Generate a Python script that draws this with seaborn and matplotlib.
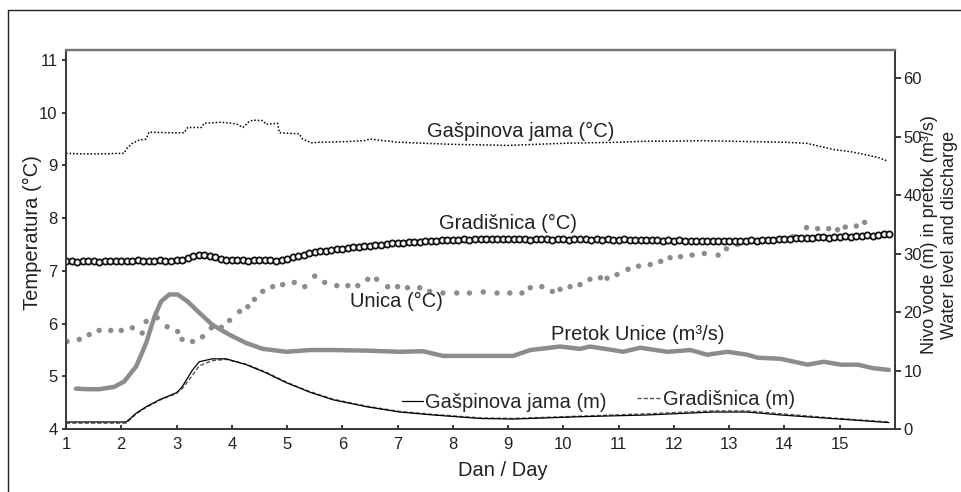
import numpy as np
import pandas as pd
import seaborn as sns
import matplotlib.pyplot as plt
from matplotlib.lines import Line2D

# --- temperatures (left axis) ---
gasp_t_day = [1.0, 1.3, 1.6, 2.05, 2.1, 2.2, 2.32, 2.45, 2.5, 2.9, 3.14, 3.2, 3.45, 3.5, 3.8,
              4.0, 4.1, 4.2, 4.3, 4.38, 4.56, 4.62, 4.83, 4.86, 5.22, 5.28, 5.44, 5.6, 6.0,
              6.4, 6.5, 7.0, 7.5, 8.0, 8.5, 9.0, 9.5, 10.0, 10.5, 11.0, 11.5, 12.0, 12.5,
              13.0, 13.5, 14.0, 14.4, 14.9, 15.2, 15.44, 15.7, 15.87]
gasp_t = [9.23, 9.22, 9.22, 9.23, 9.32, 9.42, 9.48, 9.50, 9.63, 9.62, 9.62, 9.72, 9.72, 9.80, 9.82,
          9.80, 9.78, 9.72, 9.82, 9.86, 9.85, 9.78, 9.80, 9.62, 9.60, 9.50, 9.43, 9.44, 9.45,
          9.47, 9.50, 9.44, 9.42, 9.40, 9.39, 9.38, 9.40, 9.42, 9.43, 9.44, 9.46, 9.46, 9.47,
          9.46, 9.45, 9.44, 9.42, 9.30, 9.26, 9.21, 9.15, 9.08]

# Gradisnica temperature, every 0.1 day from day 1.0 to 15.9
grad_t = [7.18, 7.19, 7.17, 7.18, 7.19, 7.18, 7.17, 7.19, 7.18, 7.19,
          7.18, 7.19, 7.18, 7.20, 7.19, 7.18, 7.19, 7.20, 7.19, 7.18,
          7.20, 7.21, 7.24, 7.28, 7.30, 7.31, 7.29, 7.26, 7.22, 7.21,
          7.20, 7.21, 7.20, 7.19, 7.21, 7.20, 7.21, 7.20, 7.19, 7.21,
          7.22, 7.26, 7.29, 7.31, 7.33, 7.35, 7.37, 7.38, 7.40, 7.41,
          7.42, 7.43, 7.45, 7.46, 7.47, 7.48, 7.49, 7.50, 7.51, 7.52,
          7.53, 7.53, 7.54, 7.55, 7.55, 7.56, 7.57, 7.57, 7.58, 7.58,
          7.59, 7.59, 7.60, 7.59, 7.60, 7.60, 7.61, 7.60, 7.60, 7.61,
          7.60, 7.60, 7.61, 7.60, 7.59, 7.60, 7.61, 7.60, 7.59, 7.60,
          7.60, 7.59, 7.60, 7.61, 7.60, 7.59, 7.60, 7.59, 7.60, 7.59,
          7.59, 7.60, 7.58, 7.59, 7.58, 7.59, 7.58, 7.58, 7.57, 7.58,
          7.57, 7.58, 7.56, 7.57, 7.56, 7.57, 7.56, 7.56, 7.57, 7.56,
          7.56, 7.57, 7.56, 7.57, 7.58, 7.57, 7.58, 7.59, 7.59, 7.60,
          7.60, 7.61, 7.62, 7.62, 7.63, 7.63, 7.64, 7.64, 7.63, 7.65,
          7.65, 7.66, 7.65, 7.66, 7.67, 7.68, 7.67, 7.68, 7.69, 7.70]
grad_t_day = [1.0 + 0.1 * i for i in range(len(grad_t))]

unica_day = [1.02, 1.24, 1.42, 1.6, 1.81, 2.0, 2.2, 2.38, 2.45, 2.65, 2.83, 3.02, 3.1, 3.29,
             3.47, 3.63, 3.81, 3.96, 4.14, 4.29, 4.41, 4.56, 4.74, 4.92, 5.13, 5.32, 5.5,
             5.68, 5.9, 6.1, 6.28, 6.46, 6.62, 6.82, 7.0, 7.18, 7.4, 7.58, 7.82, 8.07, 8.3,
             8.55, 8.8, 9.03, 9.25, 9.4, 9.61, 9.8, 9.94, 10.12, 10.3, 10.48, 10.67, 10.79,
             10.97, 11.17, 11.36, 11.57, 11.76, 11.93, 12.12, 12.33, 12.55, 12.8, 12.95,
             13.15, 13.35, 13.55, 13.75, 13.95, 14.15, 14.4, 14.6, 14.8, 14.96, 15.1, 15.3,
             15.45]
unica_t = [5.66, 5.70, 5.79, 5.87, 5.87, 5.87, 5.92, 5.82, 6.04, 6.11, 5.94, 5.85, 5.70, 5.66,
           5.75, 5.92, 5.93, 6.06, 6.23, 6.32, 6.46, 6.61, 6.70, 6.74, 6.78, 6.70, 6.90,
           6.78, 6.72, 6.72, 6.72, 6.84, 6.84, 6.70, 6.70, 6.68, 6.68, 6.61, 6.58, 6.58, 6.58,
           6.60, 6.58, 6.58, 6.58, 6.68, 6.70, 6.61, 6.65, 6.70, 6.74, 6.84, 6.87, 6.86,
           6.93, 7.03, 7.09, 7.12, 7.18, 7.25, 7.27, 7.30, 7.33, 7.30, 7.42,
           7.50, 7.55, 7.56, 7.58, 7.60, 7.65, 7.82, 7.80, 7.80, 7.78, 7.83, 7.85,
           7.92]

# --- water level and discharge (right axis) ---
pretok_day = [1.18, 1.4, 1.6, 1.87, 2.05, 2.27, 2.45, 2.6, 2.72, 2.87, 3.02, 3.2, 3.41, 3.65,
              3.96, 4.26, 4.56, 4.99, 5.41, 5.83, 6.44, 7.04, 7.46, 7.82, 8.49, 9.09, 9.4,
              9.94, 10.3, 10.48, 10.9, 11.08, 11.39, 11.88, 12.3, 12.6, 12.97, 13.33, 13.51,
              13.93, 14.42, 14.71, 15.02, 15.33, 15.6, 15.89]
pretok = [6.9, 6.8, 6.8, 7.2, 8.1, 10.7, 14.7, 19.2, 21.8, 23.0, 23.0, 21.8, 19.9, 17.8,
          16.1, 14.7, 13.7, 13.2, 13.5, 13.5, 13.4, 13.2, 13.3, 12.5, 12.5, 12.5, 13.5,
          14.1, 13.7, 14.1, 13.5, 13.2, 13.9, 13.2, 13.5, 12.7, 13.2, 12.7, 12.2,
          12.0, 11.0, 11.5, 11.0, 11.0, 10.4, 10.1]

nivo_day = [1.0, 1.5, 2.09, 2.27, 2.45, 2.69, 3.0, 3.1, 3.29, 3.41, 3.65, 3.9, 4.26, 4.62,
            4.99, 5.41, 5.83, 6.44, 7.04, 7.64, 8.49, 9.09, 10.3, 11.52, 12.7, 13.33, 13.93,
            14.84, 15.89]
nivo_gasp = [1.2, 1.2, 1.2, 2.7, 3.8, 5.0, 6.2, 7.2, 10.1, 11.5, 12.0, 12.0, 11.0, 9.6,
             7.9, 6.3, 5.0, 3.8, 2.9, 2.4, 1.8, 1.7, 2.1, 2.4, 2.9, 2.9, 2.4, 1.8, 1.1]
nivo_grad = [1.0, 1.0, 1.0, 2.6, 3.7, 4.9, 6.1, 6.9, 9.2, 10.8, 11.7, 11.9, 11.1, 9.7,
             8.0, 6.4, 5.1, 3.9, 3.0, 2.5, 1.9, 1.8, 2.2, 2.6, 3.1, 3.1, 2.6, 1.9, 1.2]

x_ticks = list(range(1, 16))
left_ticks = list(range(4, 12))
right_ticks = list(range(0, 70, 10))

sns.set_theme(style="ticks")
plt.rcParams['font.family'] = ['Liberation Sans', 'DejaVu Sans']

fig = plt.figure(figsize=(9.61, 4.92), dpi=100)
ax = fig.add_axes([66 / 961, 63 / 492, 829 / 961, 379 / 492])
ax2 = ax.twinx()

grey = '#8c8c8c'
ink = '#222222'

# right axis series
sns.lineplot(x=pretok_day, y=pretok, ax=ax2, color=grey, lw=3.2, zorder=2)
sns.lineplot(x=nivo_day, y=nivo_grad, ax=ax2, color='#555555', lw=1.0, linestyle=(0, (3, 1.5)))
sns.lineplot(x=nivo_day, y=nivo_gasp, ax=ax2, color='black', lw=0.9)

# left axis series on top
ax.set_zorder(ax2.get_zorder() + 1)
ax.patch.set_visible(False)
sns.lineplot(x=gasp_t_day, y=gasp_t, ax=ax, color='black', lw=1.1, linestyle=(0, (1, 1.3)))
sns.scatterplot(x=unica_day, y=unica_t, ax=ax, color=grey, s=15, edgecolor='none')
sns.scatterplot(x=grad_t_day, y=grad_t, ax=ax, marker='o', s=20, facecolor='white',
                edgecolor='#111111', linewidth=1.3)

ax.set_xlim(1, 16)
ax.set_ylim(4, 11.19)
ax2.set_ylim(0, 64.8)
ax.set_xticks(x_ticks)
ax.set_yticks(left_ticks)
ax2.set_yticks(right_ticks)
ax.set_xlabel('')
ax.set_ylabel('')

tick_fs = 12
ax.tick_params(axis='x', direction='in', length=3, pad=6, labelsize=tick_fs, colors=ink)
ax.tick_params(axis='y', direction='out', length=3, pad=3, labelsize=tick_fs, colors=ink)
ax2.tick_params(axis='y', direction='out', length=4, pad=2, labelsize=tick_fs, colors=ink)

for a in (ax, ax2):
    for side in ('left', 'right', 'bottom'):
        a.spines[side].set_visible(True)
        a.spines[side].set_color('#333333')
        a.spines[side].set_linewidth(1.1)
    a.spines['top'].set_visible(True)
    a.spines['top'].set_color('#777777')
    a.spines['top'].set_linewidth(1.6)

lab_fs = 14.5
ax.text(9.23, 9.65, 'Gašpinova jama (°C)', ha='center', va='center', fontsize=lab_fs, color=ink)
ax.text(9.0, 7.9, 'Gradišnica (°C)', ha='center', va='center', fontsize=lab_fs, color=ink)
ax.text(6.98, 6.42, 'Unica (°C)', ha='center', va='center', fontsize=lab_fs, color=ink)
ax2.text(11.34, 16.1, 'Pretok Unice (m³/s)', ha='center', va='center', fontsize=lab_fs, color=ink)

leg1 = ax2.legend(handles=[Line2D([], [], color='black', lw=0.9)], labels=['Gašpinova jama (m)'],
                  loc='center left', bbox_to_anchor=(0.405, 0.069), frameon=False, fontsize=lab_fs,
                  handlelength=1.05, handletextpad=0.12, borderpad=0, borderaxespad=0)
ax2.add_artist(leg1)
ax2.legend(handles=[Line2D([], [], color='#555555', lw=1.0, linestyle=(0, (3, 1.5)))],
           labels=['Gradišnica (m)'], loc='center left', bbox_to_anchor=(0.689, 0.077),
           frameon=False, fontsize=lab_fs, handlelength=1.15, handletextpad=0.12,
           borderpad=0, borderaxespad=0)

fig.text(503 / 961, 1 - 470 / 492, 'Dan / Day', ha='center', va='center', fontsize=lab_fs, color=ink)
fig.text(32 / 961, 1 - 233 / 492, 'Temperatura (°C)', rotation=90, ha='center', va='center',
         fontsize=lab_fs, color=ink)
fig.text(930 / 961, 1 - 235 / 492, 'Nivo vode (m) in pretok (m³/s)', rotation=90, ha='center',
         va='center', fontsize=13, color=ink)
fig.text(949 / 961, 1 - 235 / 492, 'Water level and discharge', rotation=90, ha='center',
         va='center', fontsize=13, color=ink)

# outer frame (cropped at right and bottom)
fig.add_artist(Line2D([8 / 961, 8 / 961], [0, 1 - 10 / 492], color=ink, lw=1.0))
fig.add_artist(Line2D([8 / 961, 1], [1 - 10 / 492, 1 - 10 / 492], color=ink, lw=1.0))

fig.savefig('out.png', dpi=100)
